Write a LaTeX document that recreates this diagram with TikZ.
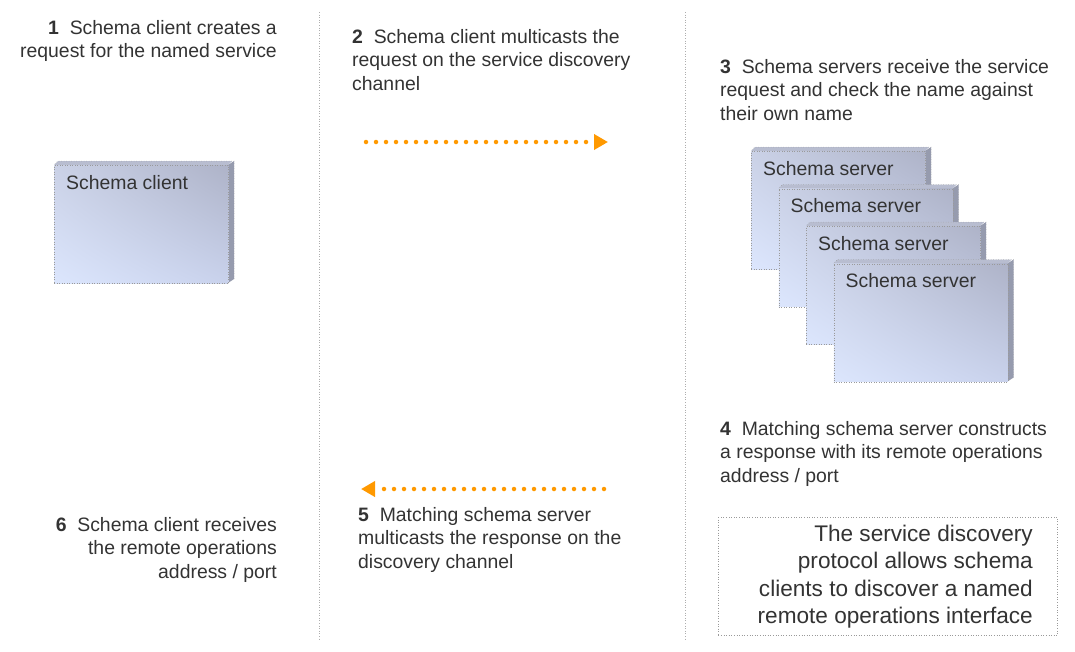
\documentclass[tikz,border=0pt]{standalone}
\usepackage{fontspec}
\setmainfont{Liberation Sans}
\usetikzlibrary{arrows.meta,calc,shadings}
\definecolor{txt}{HTML}{333333}
\definecolor{orng}{HTML}{FF9900}
\definecolor{bUL}{HTML}{CAD1E6}
\definecolor{bUR}{HTML}{AEB3C8}
\definecolor{bLL}{HTML}{DCE6FD}
\definecolor{bLR}{HTML}{C9D2EC}
\definecolor{bside}{HTML}{969BAE}
\definecolor{btop}{HTML}{B8BDD0}
\definecolor{bline}{HTML}{9A9A9A}
\newcommand{\threedbox}[4]{% name, x, y, label
  \fill[btop] (#2,#3) -- ++(4,-4) -- ++(174,0) -- ++(-4,4) -- cycle;
  \fill[bside] (#2+174,#3) -- ++(6,-4) -- ++(0,118) -- ++(-6,4) -- cycle;
  \draw[bline, dotted, line width=0.5pt] (#2+1,#3-1) -- ++(3,-3) -- ++(176,0) -- ++(0,118);
  \node[boxface, anchor=north west] (#1) at (#2,#3) {};
  \node[boxtext] (#1t) at ($(#1.north west)+(12,24)$) {#4};
}
\begin{document}
\begin{tikzpicture}[x=1pt,y=-1pt,
  steptext/.style={inner sep=0pt, text=txt, font=\fontsize{19.4}{23.7}\selectfont},
  boxface/.style={inner sep=0pt, minimum width=174pt, minimum height=118pt,
    upper left=bUL, upper right=bUR, lower left=bLL, lower right=bLR,
    draw=bline, dotted, line width=0.5pt},
  boxtext/.style={inner sep=0pt, text=txt, font=\fontsize{19.4}{22}\selectfont, anchor=base west},
  divider/.style={draw=bline!80, dotted, line width=0.6pt},
  flow/.style={draw=orng, line width=4.5pt, line cap=round, dash pattern=on 0pt off 10pt,
    -{Triangle[length=14pt,width=15pt,fill=orng]}},
  summary/.style={draw=bline, dotted, line width=0.6pt, inner sep=0pt,
    minimum width=339pt, minimum height=118pt}
]
\useasboundingbox (0,0) rectangle (1075,651);
\fill[white] (0,0) rectangle (1075,651);

% dividers
\coordinate (d1t) at (319,12); \coordinate (d1b) at (319,640);
\coordinate (d2t) at (685,12); \coordinate (d2b) at (685,640);
\draw[divider] (d1t) -- (d1b);
\draw[divider] (d2t) -- (d2b);

% client
\threedbox{client}{54}{165}{Schema client}

% servers
\threedbox{srvA}{751}{151}{Schema server}
\threedbox{srvB}{778.5}{188.5}{Schema server}
\threedbox{srvC}{806}{226}{Schema server}
\threedbox{srvD}{833.5}{263.5}{Schema server}

% step texts
\node[steptext, anchor=north east, align=right] (s1) at (277,17.4)
  {\strut\textbf{1}\ \ Schema client creates a\\request for the named service};
\node[steptext, anchor=north west, align=left] (s2) at (352,26.4)
  {\strut\textbf{2}\ \ Schema client multicasts the\\request on the service discovery\\channel};
\node[steptext, anchor=north west, align=left] (s3) at (720,56.4)
  {\strut\textbf{3}\ \ Schema servers receive the service\\request and check the name against\\their own name};
\node[steptext, anchor=north west, align=left] (s4) at (720,418.4)
  {\strut\textbf{4}\ \ Matching schema server constructs\\a response with its remote operations\\address / port};
\node[steptext, anchor=north west, align=left] (s5) at (358,504.4)
  {\strut\textbf{5}\ \ Matching schema server\\multicasts the response on the\\discovery channel};
\node[steptext, anchor=north east, align=right] (s6) at (277,514.4)
  {\strut\textbf{6}\ \ Schema client receives\\the remote operations\\address / port};

% arrows
\coordinate (a1s) at (366,142); \coordinate (a1e) at (608,142);
\coordinate (a2s) at (604,489); \coordinate (a2e) at (361,489);
\draw[flow] (a1s) -- (a1e);
\draw[flow] (a2s) -- (a2e);

% summary
\node[summary, anchor=north west] (sum) at (718,517) {};
\node[inner sep=0pt, text=txt, font=\fontsize{22.6}{27.5}\selectfont, anchor=north east, align=right] (sumt) at (1033,521.75)
  {\strut The service discovery\\protocol allows schema\\clients to discover a named\\remote operations interface};
\end{tikzpicture}
\end{document}
